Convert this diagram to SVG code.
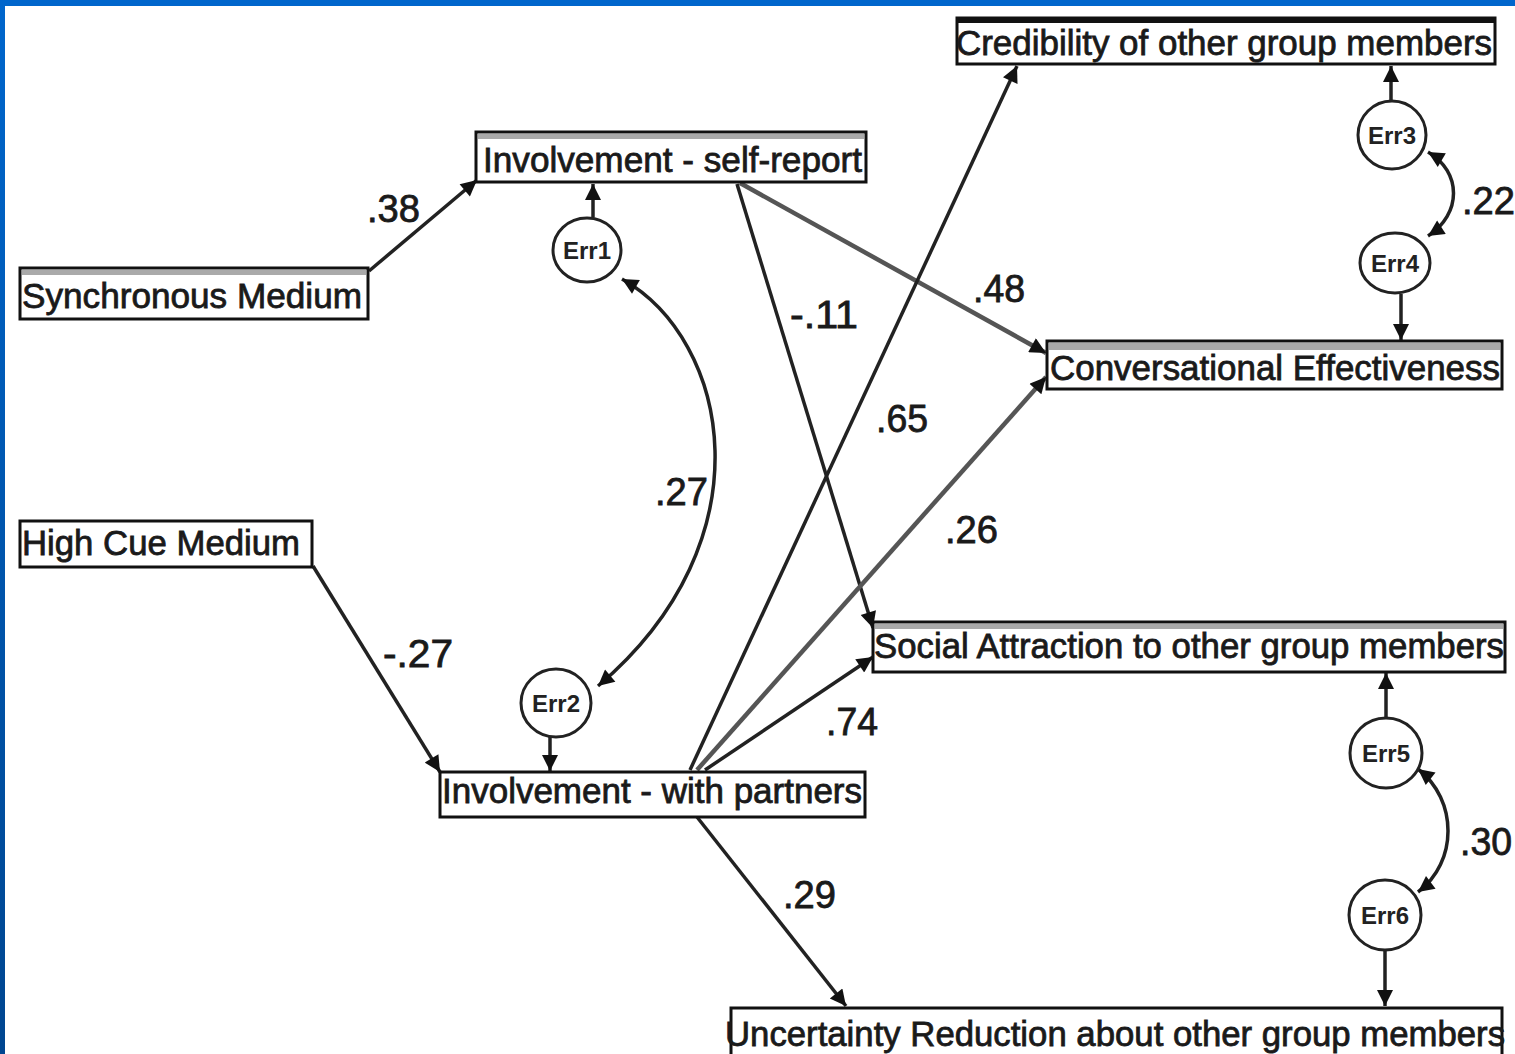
<svg xmlns="http://www.w3.org/2000/svg" width="1515" height="1054" viewBox="0 0 1515 1054">
<style>
.box{fill:#fff;stroke:#111;stroke-width:3}
.band{fill:#aaa}
.t{font-family:"Liberation Sans",Arial,sans-serif;font-size:35px;fill:#1a1a1a;stroke:#1a1a1a;stroke-width:0.8}
.e{font-family:"Liberation Sans",Arial,sans-serif;font-size:24px;font-weight:bold;fill:#222}
.err{fill:#fff;stroke:#222;stroke-width:3}
.lbl{font-family:"Liberation Sans",Arial,sans-serif;font-size:38px;fill:#1a1a1a;stroke:#1a1a1a;stroke-width:0.8}
.c{fill:none;stroke:#222;stroke-width:3.5;marker-end:url(#arr)}
.d{fill:none;stroke:#222;stroke-width:3.5;marker-start:url(#arr);marker-end:url(#arr)}
.g{stroke:#555;stroke-width:4.5}
</style>
<defs>
<marker id="arr" viewBox="0 0 10 10" refX="10" refY="5" markerWidth="20" markerHeight="16" markerUnits="userSpaceOnUse" orient="auto-start-reverse">
<path d="M0,0 L10,5 L0,10 z" fill="#111"/>
</marker>
<linearGradient id="lb" x1="0" y1="0" x2="0" y2="1">
<stop offset="0" stop-color="#0066cc"/>
<stop offset="1" stop-color="#004690"/>
</linearGradient>
</defs>
<rect x="0" y="0" width="1515" height="1054" fill="#fff"/>
<rect x="0" y="0" width="1515" height="6" fill="#0066cc"/>
<rect x="0" y="0" width="5" height="1054" fill="url(#lb)"/>

<g id="connectors">
<path class="c" d="M369,271 L477,180"/>
<path class="c" d="M593,217 L593,184"/>
<path class="d" d="M622,279 C730,340 770,540 598,686"/>
<path class="c" d="M550,737 L550,771"/>
<path class="c" d="M313,566 L440,772"/>
<path class="c g" d="M740,183 L1046,353"/>
<path class="c" d="M737,184 L873,628"/>
<path class="c" d="M690,770 L1017,66"/>
<path class="c g" d="M697,770 L1046,377"/>
<path class="c" d="M705,770 L873,657"/>
<path class="c" d="M697,817 L846,1006"/>
<path class="c" d="M1391,100 L1391,66"/>
<path class="d" d="M1428,152 C1462,172 1462,214 1428,236"/>
<path class="c" d="M1401,294 L1401,340"/>
<path class="c" d="M1386,718 L1386,673"/>
<path class="d" d="M1418,769 C1458,800 1458,862 1418,892"/>
<path class="c" d="M1385,950 L1385,1006"/>
</g>

<g id="labels">
<text class="lbl" x="367" y="222" textLength="53" lengthAdjust="spacingAndGlyphs">.38</text>
<text class="lbl" x="383" y="667" textLength="70" lengthAdjust="spacingAndGlyphs">-.27</text>
<text class="lbl" x="655" y="505" textLength="53" lengthAdjust="spacingAndGlyphs">.27</text>
<text class="lbl" x="790" y="328" textLength="68" lengthAdjust="spacingAndGlyphs">-.11</text>
<text class="lbl" x="973" y="302" textLength="52" lengthAdjust="spacingAndGlyphs">.48</text>
<text class="lbl" x="876" y="432" textLength="52" lengthAdjust="spacingAndGlyphs">.65</text>
<text class="lbl" x="945" y="543" textLength="53" lengthAdjust="spacingAndGlyphs">.26</text>
<text class="lbl" x="826" y="735" textLength="52" lengthAdjust="spacingAndGlyphs">.74</text>
<text class="lbl" x="783" y="908" textLength="53" lengthAdjust="spacingAndGlyphs">.29</text>
<text class="lbl" x="1462" y="214" textLength="53" lengthAdjust="spacingAndGlyphs">.22</text>
<text class="lbl" x="1460" y="855" textLength="52" lengthAdjust="spacingAndGlyphs">.30</text>
</g>

<g id="synchronous">
<rect class="box" x="20" y="268" width="348" height="51"/>
<rect class="band" x="22" y="270" width="344" height="5"/>
<text class="t" x="22" y="308" textLength="340" lengthAdjust="spacingAndGlyphs">Synchronous Medium</text>
</g>
<g id="self-report">
<rect class="box" x="476" y="132" width="390" height="50"/>
<rect class="band" x="478" y="134" width="386" height="5"/>
<text class="t" x="483" y="172" textLength="379" lengthAdjust="spacingAndGlyphs">Involvement - self-report</text>
</g>
<g id="credibility">
<rect class="box" x="957" y="18" width="538" height="46"/>
<rect x="957" y="18" width="538" height="5" fill="#111"/>
<text class="t" x="956" y="55" textLength="536" lengthAdjust="spacingAndGlyphs">Credibility of other group members</text>
</g>
<g id="conversational">
<rect class="box" x="1047" y="341" width="455" height="48"/>
<rect class="band" x="1049" y="343" width="451" height="7" fill="#ccc"/>
<text class="t" x="1050" y="380" textLength="450" lengthAdjust="spacingAndGlyphs">Conversational Effectiveness</text>
</g>
<g id="high-cue">
<rect class="box" x="20" y="521" width="292" height="46"/>
<text class="t" x="22" y="555" textLength="278" lengthAdjust="spacingAndGlyphs">High Cue Medium</text>
</g>
<g id="social">
<rect class="box" x="873" y="622" width="632" height="50"/>
<rect class="band" x="875" y="624" width="628" height="5" fill="#ccc"/>
<text class="t" x="874" y="658" textLength="630" lengthAdjust="spacingAndGlyphs">Social Attraction to other group members</text>
</g>
<g id="with-partners">
<rect class="box" x="440" y="772" width="425" height="45"/>
<text class="t" x="442" y="803" textLength="420" lengthAdjust="spacingAndGlyphs">Involvement - with partners</text>
</g>
<g id="uncertainty">
<rect class="box" x="731" y="1008" width="771" height="50"/>
<text class="t" x="725" y="1046" textLength="780" lengthAdjust="spacingAndGlyphs">Uncertainty Reduction about other group members</text>
</g>

<g id="err1"><ellipse class="err" cx="587" cy="250" rx="34" ry="32"/><text class="e" x="587" y="259" text-anchor="middle" textLength="48" lengthAdjust="spacingAndGlyphs">Err1</text></g>
<g id="err2"><ellipse class="err" cx="556" cy="703" rx="35" ry="34"/><text class="e" x="556" y="712" text-anchor="middle" textLength="48" lengthAdjust="spacingAndGlyphs">Err2</text></g>
<g id="err3"><ellipse class="err" cx="1392" cy="135" rx="34" ry="34"/><text class="e" x="1392" y="144" text-anchor="middle" textLength="48" lengthAdjust="spacingAndGlyphs">Err3</text></g>
<g id="err4"><ellipse class="err" cx="1395" cy="263" rx="35" ry="30"/><text class="e" x="1395" y="272" text-anchor="middle" textLength="48" lengthAdjust="spacingAndGlyphs">Err4</text></g>
<g id="err5"><ellipse class="err" cx="1386" cy="753" rx="36" ry="35"/><text class="e" x="1386" y="762" text-anchor="middle" textLength="48" lengthAdjust="spacingAndGlyphs">Err5</text></g>
<g id="err6"><ellipse class="err" cx="1385" cy="915" rx="36" ry="35"/><text class="e" x="1385" y="924" text-anchor="middle" textLength="48" lengthAdjust="spacingAndGlyphs">Err6</text></g>
</svg>
